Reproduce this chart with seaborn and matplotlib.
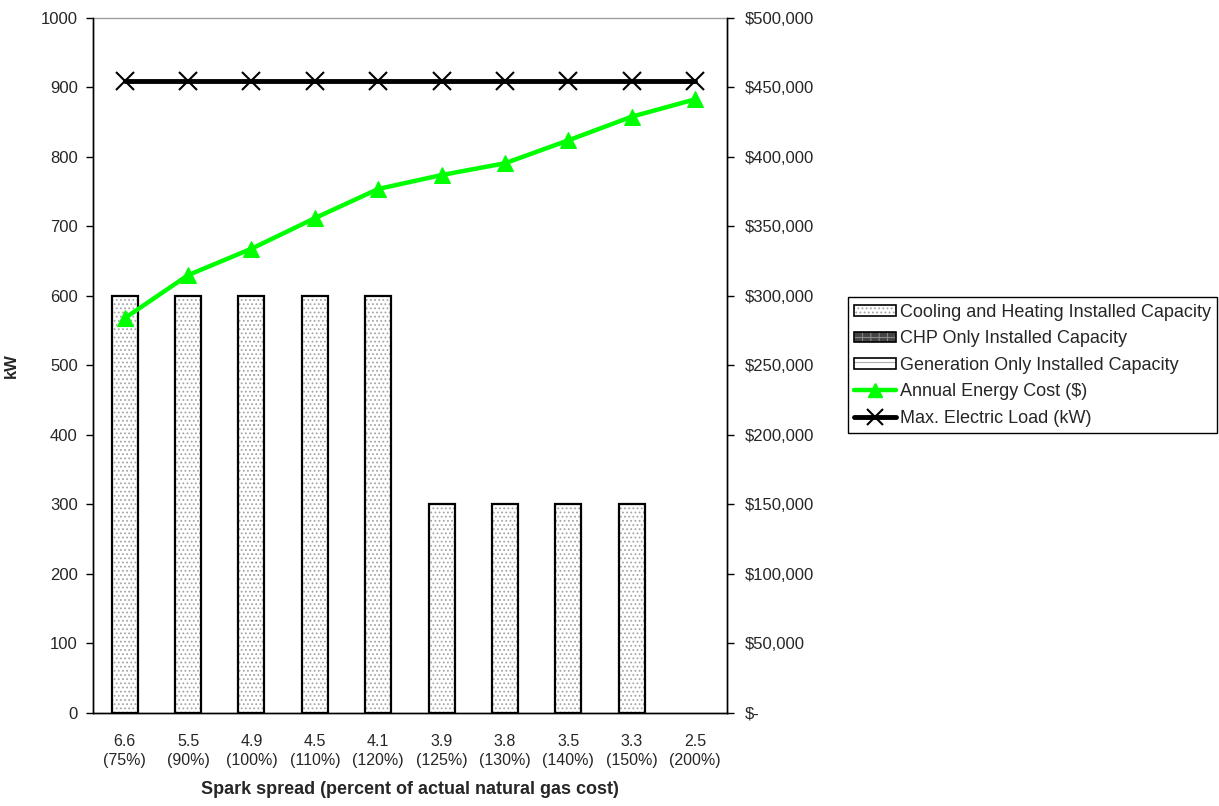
import numpy as np
import pandas as pd
import matplotlib
matplotlib.use("Agg")
import matplotlib.pyplot as plt
import matplotlib.patches as mpatches
import matplotlib.lines as mlines
from matplotlib.legend_handler import HandlerBase
import seaborn as sns

# ---- data ----
spark_spread = ["6.6", "5.5", "4.9", "4.5", "4.1", "3.9", "3.8", "3.5", "3.3", "2.5"]
gas_pct = ["75%", "90%", "100%", "110%", "120%", "125%", "130%", "140%", "150%", "200%"]
cooling_heating_kw = [600, 600, 600, 600, 600, 300, 300, 300, 300, 0]
chp_only_kw = [0, 0, 0, 0, 0, 0, 0, 0, 0, 0]
generation_only_kw = [0, 0, 0, 0, 0, 0, 0, 0, 0, 0]
annual_cost = [284000, 315000, 334000, 356000, 377000, 387000, 395500, 412000, 429000, 441500]
max_load_kw = [910, 910, 910, 910, 910, 910, 910, 910, 910, 910]

left_ticks = [0, 100, 200, 300, 400, 500, 600, 700, 800, 900, 1000]
right_ticks = [0, 50000, 100000, 150000, 200000, 250000, 300000, 350000, 400000, 450000, 500000]
right_labels = ["$-", "$50,000", "$100,000", "$150,000", "$200,000", "$250,000",
                "$300,000", "$350,000", "$400,000", "$450,000", "$500,000"]

cat_labels = [f"{s}\n({p})" for s, p in zip(spark_spread, gas_pct)]
df = pd.DataFrame({
    "cat": cat_labels,
    "pos": np.arange(len(cat_labels)),
    "cooling": cooling_heating_kw,
    "chp": chp_only_kw,
    "gen": generation_only_kw,
    "cost": annual_cost,
    "load": max_load_kw,
})

sns.set_theme(style="white")
plt.rcParams["font.family"] = ["Liberation Sans", "DejaVu Sans"]
plt.rcParams["hatch.linewidth"] = 0.8

HATCH_GRAY = "#a5a5a5"

fig = plt.figure(figsize=(12.19, 8.06), dpi=100)
ax = fig.add_axes([0.0763, 0.1154, 0.52, 0.8623])
ax2 = ax.twinx()

FS = 12

# bars: gray dotted fill, then black outline on top
BW = 0.41
sns.barplot(data=df, x="pos", y="cooling", ax=ax, width=BW, color="white",
            edgecolor=HATCH_GRAY, linewidth=0, hatch="....", saturation=1,
            native_scale=True, errorbar=None)
n_fill = len(ax.patches)
sns.barplot(data=df, x="pos", y="cooling", ax=ax, width=BW, fill=False,
            edgecolor="black", linewidth=1.6, saturation=1,
            native_scale=True, errorbar=None)
for p in ax.patches:
    if p.get_height() == 0:
        p.set_visible(False)
bottom = np.array(cooling_heating_kw)
ax.bar(df["pos"], df["chp"], bottom=bottom, width=BW, color="#555555",
       edgecolor="black", linewidth=0)
ax.bar(df["pos"], df["gen"], bottom=bottom + np.array(chp_only_kw), width=BW,
       color="white", edgecolor="black", linewidth=0)

# max electric load line (left axis)
sns.lineplot(data=df, x="pos", y="load", ax=ax, color="black", linewidth=3.5,
             marker="x", markersize=13, markeredgewidth=1.5, markeredgecolor="black",
             zorder=5)

# annual cost (right axis)
sns.lineplot(data=df, x="pos", y="cost", ax=ax2, color="#00FF00", linewidth=3.2,
             marker="^", markersize=12, markeredgecolor="#00FF00", zorder=5)

ax.set_xlim(-0.5, len(cat_labels) - 0.5)
ax.set_ylim(0, 1000)
ax2.set_ylim(0, 500000)

ax.set_yticks(left_ticks)
ax.set_yticklabels([str(t) for t in left_ticks], fontsize=FS)
ax2.set_yticks(right_ticks)
ax2.set_yticklabels(right_labels, fontsize=FS)

ax.set_xticks(df["pos"])
ax.set_xticklabels(cat_labels, fontsize=11.5, linespacing=1.35)
ax.set_xticks(np.arange(-0.5, len(cat_labels), 1.0), minor=True)
ax.tick_params(axis="x", which="major", length=0, pad=15)
ax.tick_params(axis="x", which="minor", length=5, width=1, color="black", direction="out")
ax.tick_params(axis="y", which="major", length=5, width=1, color="black", direction="out",
               left=True, pad=6)
ax2.tick_params(axis="y", which="major", length=5, width=1, color="black", direction="out",
                right=True, pad=8)

for a in (ax, ax2):
    for s in ("left", "right", "bottom"):
        a.spines[s].set_visible(True)
        a.spines[s].set_color("black")
        a.spines[s].set_linewidth(1.0)
    a.spines["top"].set_visible(False)
    a.grid(False)
ax.spines["top"].set_visible(True)
ax.spines["top"].set_color("#a0a0a0")
ax.spines["top"].set_linewidth(1.0)

ax.set_xlabel("Spark spread (percent of actual natural gas cost)", fontsize=13,
              fontweight="bold", labelpad=9)
ax.set_ylabel("kW", fontsize=FS, fontweight="bold", labelpad=16)
ax2.set_ylabel("")


class HatchBox(HandlerBase):
    """Legend box: hatch in its own colour, black outline on top."""
    def __init__(self, face, hatch, hcolor):
        super().__init__()
        self.face, self.hatch, self.hcolor = face, hatch, hcolor

    def create_artists(self, legend, orig_handle, xdescent, ydescent, width, height,
                       fontsize, trans):
        h = height * 0.85
        y0 = -ydescent + (height - h) / 2
        r1 = mpatches.Rectangle((-xdescent, y0), width, h, facecolor=self.face,
                                edgecolor=self.hcolor, hatch=self.hatch, linewidth=0,
                                transform=trans)
        r2 = mpatches.Rectangle((-xdescent, y0), width, h, fill=False,
                                edgecolor="black", linewidth=1.2, transform=trans)
        return [r1, r2]


# legend
h1 = mpatches.Patch(label="c")
h2 = mpatches.Patch(label="p")
h3 = mpatches.Patch(label="g")
h4 = mlines.Line2D([], [], color="#00FF00", linewidth=3.2, marker="^", markersize=10,
                   markeredgecolor="#00FF00")
h5 = mlines.Line2D([], [], color="black", linewidth=3.5, marker="x", markersize=11,
                   markeredgewidth=1.5)
leg = fig.legend([h1, h2, h3, h4, h5],
                 ["Cooling and Heating Installed Capacity", "CHP Only Installed Capacity",
                  "Generation Only Installed Capacity", "Annual Energy Cost ($)",
                  "Max. Electric Load (kW)"],
                 handler_map={h1: HatchBox("white", "....", HATCH_GRAY),
                              h2: HatchBox("#444444", "++", "#888888"),
                              h3: HatchBox("white", "--", "#b0b0b0")},
                 loc="upper left", bbox_to_anchor=(0.6957, 0.631), fontsize=13,
                 frameon=True, fancybox=False, edgecolor="black", framealpha=1,
                 handlelength=2.3, handletextpad=0.2, labelspacing=0.53,
                 borderpad=0.35, borderaxespad=0)
leg.get_frame().set_linewidth(1.0)

fig.savefig("out.png", dpi=100)
